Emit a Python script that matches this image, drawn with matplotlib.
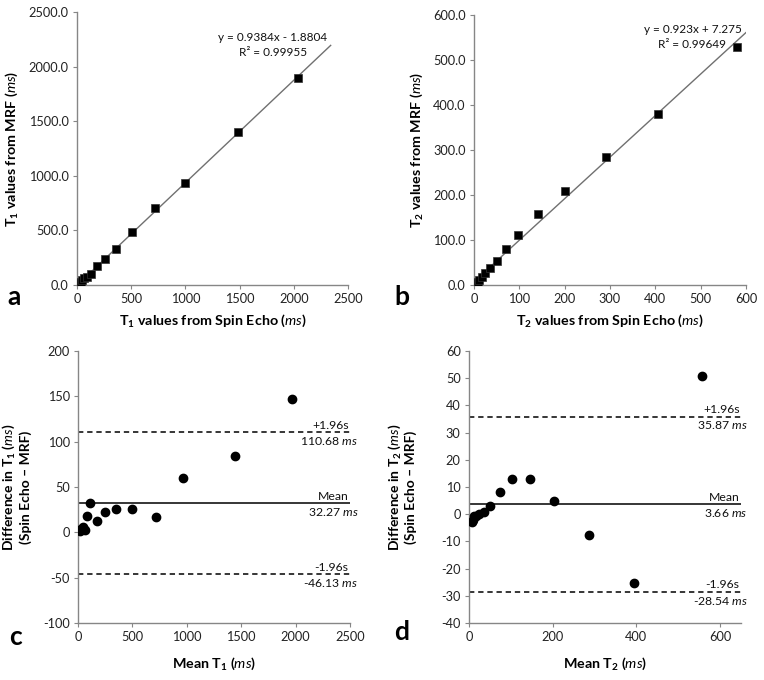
#! /usr/bin/env python3

import matplotlib
matplotlib.use('Agg')
import matplotlib.pyplot as plt
from matplotlib.ticker import FormatStrFormatter

plt.rcParams['font.family'] = ['Lato', 'DejaVu Sans']
plt.rcParams['mathtext.fontset'] = 'custom'
plt.rcParams['mathtext.rm'] = 'Lato'
plt.rcParams['mathtext.it'] = 'Lato:italic'
plt.rcParams['mathtext.bf'] = 'Lato:bold'
plt.rcParams['axes.unicode_minus'] = False

# panel a: T1 spin echo vs MRF
t1_spin_echo = [16, 33, 49, 65, 95, 129, 184, 256, 360, 507, 723, 993, 1484, 2038]
t1_mrf = [14, 29, 43, 62, 77, 97, 172, 234, 334, 481, 706, 933, 1400, 1893]
t1_slope, t1_intercept = 0.9384, -1.8804
t1_fit_range = [0, 2340]

# panel b: T2 spin echo vs MRF
t2_spin_echo = [6, 8, 11, 17, 24, 35, 50, 70, 96, 141, 200, 291, 405, 581]
t2_mrf = [4, 6, 11, 18.5, 26, 38.6, 54, 79, 110.5, 157, 208, 284, 380, 530]
t2_slope, t2_intercept = 0.923, 7.275
t2_fit_range = [0, 600]

# panel c: Bland-Altman T1
t1_mean = [15, 31, 46, 64, 86, 113, 178, 245, 347, 494, 715, 963, 1442, 1969]
t1_diff = [1.5, 4, 6, 3, 18, 32, 12, 22, 26, 26, 17, 60, 84, 147]
t1_ba = {'mean': 32.27, 'upper': 110.68, 'lower': -46.13}

# panel d: Bland-Altman T2
t2_mean = [7, 10, 13, 17, 25, 35, 50, 73, 102, 146, 204, 287, 394, 556]
t2_diff = [-2.7, -2.3, -0.8, -0.5, 0, 0.7, 3.2, 8.1, 13.1, 13.1, 4.9, -7.5, -25.2, 50.8]
t2_ba = {'mean': 3.66, 'upper': 35.87, 'lower': -28.54}

SPINE = '#868686'
TICK_FS = 9.2
LABEL_FS = 10.3
NOTE_FS = 8.8


def style_axes(ax):
    for side in ('top', 'right'):
        ax.spines[side].set_visible(False)
    for side in ('left', 'bottom'):
        ax.spines[side].set_color(SPINE)
        ax.spines[side].set_linewidth(1.0)
    ax.tick_params(axis='both', direction='out', length=3, width=0.8, color=SPINE,
                   labelsize=TICK_FS, labelcolor='#222222', pad=3)


def scatter_panel(ax, x, y, slope, intercept, fit_range, eq_text, eq_xy, lim, step):
    fit_y = [slope * v + intercept for v in fit_range]
    ax.plot(fit_range, fit_y, color='#707070', lw=1.0, zorder=2)
    ax.plot(x, y, ls='none', marker='s', ms=5.5, mfc='black', mec='#333333', mew=0.5, zorder=3)
    ax.set_xlim(0, lim)
    ax.set_ylim(0, lim)
    ax.set_xticks(range(0, lim + 1, step))
    ax.set_yticks(range(0, lim + 1, step))
    ax.yaxis.set_major_formatter(FormatStrFormatter('%.1f'))
    ax.text(eq_xy[0], eq_xy[1], eq_text, ha='center', va='center', fontsize=NOTE_FS - 0.3,
            linespacing=1.4, color='#111111')
    style_axes(ax)


def bland_altman_panel(ax, x, y, stats, xlim, ylim, xticks, ystep, text_dx):
    ax.plot(x, y, ls='none', marker='o', ms=6, color='black', zorder=3)
    ax.axhline(stats['mean'], color='black', lw=1.1, zorder=2)
    ax.axhline(stats['upper'], color='black', lw=1.1, ls=(0, (3.5, 2.5)), zorder=2)
    ax.axhline(stats['lower'], color='black', lw=1.1, ls=(0, (3.5, 2.5)), zorder=2)
    ax.set_xlim(*xlim)
    ax.set_ylim(*ylim)
    ax.set_xticks(xticks)
    ax.set_yticks(range(ylim[0], ylim[1] + 1, ystep))
    xr = xlim[1]
    kw = dict(ha='right', fontsize=NOTE_FS, color='#111111', textcoords='offset points')
    for key, name in (('upper', '+1.96s'), ('mean', 'Mean'), ('lower', '-1.96s')):
        ax.annotate(name, (xr, stats[key]), xytext=(-1, 1), va='bottom', **kw)
        ax.annotate('%.2f $\\mathit{ms}$' % stats[key], (xr, stats[key]), xytext=(text_dx, -2),
                    va='top', **kw)
    style_axes(ax)


fig = plt.figure(figsize=(7.64, 6.8), dpi=100)
ax_a = fig.add_axes([0.1008, 0.5809, 0.3547, 0.4015])
ax_b = fig.add_axes([0.6204, 0.5809, 0.3560, 0.3970])
ax_c = fig.add_axes([0.1021, 0.0838, 0.3560, 0.4000])
ax_d = fig.add_axes([0.6139, 0.0838, 0.3560, 0.4000])

scatter_panel(ax_a, t1_spin_echo, t1_mrf, t1_slope, t1_intercept, t1_fit_range,
              'y = 0.9384x - 1.8804\nR² = 0.99955', (1808, 2195), 2500, 500)
ax_a.set_xlabel('T$_\\mathbf{1}$ values from Spin Echo ($\\mathit{ms}$)', fontsize=LABEL_FS,
                fontweight='bold', labelpad=5)
ax_a.set_ylabel('T$_\\mathbf{1}$ values from MRF ($\\mathit{ms}$)', fontsize=LABEL_FS,
                fontweight='bold')
ax_a.yaxis.set_label_coords(-0.21, 0.5)

scatter_panel(ax_b, t2_spin_echo, t2_mrf, t2_slope, t2_intercept, t2_fit_range,
              'y = 0.923x + 7.275\nR² = 0.99649', (482, 551), 600, 100)
ax_b.xaxis.set_major_formatter(FormatStrFormatter('%d'))
ax_b.set_xlabel('T$_\\mathbf{2}$ values from Spin Echo ($\\mathit{ms}$)', fontsize=LABEL_FS,
                fontweight='bold', labelpad=5)
ax_b.set_ylabel('T$_\\mathbf{2}$ values from MRF ($\\mathit{ms}$)', fontsize=LABEL_FS,
                fontweight='bold')
ax_b.yaxis.set_label_coords(-0.18, 0.5)

bland_altman_panel(ax_c, t1_mean, t1_diff, t1_ba, (0, 2500), (-100, 200),
                   [0, 500, 1000, 1500, 2000, 2500], 50, 6)
ax_c.set_xlabel('Mean T$_\\mathbf{1}$ ($\\mathit{ms}$)', fontsize=LABEL_FS, fontweight='bold',
                labelpad=9)
ax_c.set_ylabel('Difference in T$_\\mathbf{1}$ ($\\mathit{ms}$)\n(Spin Echo \u2013 MRF)',
                fontsize=LABEL_FS - 0.3, fontweight='bold', linespacing=1.2)
ax_c.yaxis.set_label_coords(-0.17, 0.5)

bland_altman_panel(ax_d, t2_mean, t2_diff, t2_ba, (0, 650), (-40, 60),
                   [0, 200, 400, 600], 10, 5)
ax_d.set_xlabel('Mean T$_\\mathbf{2}$ ($\\mathit{ms}$)', fontsize=LABEL_FS, fontweight='bold',
                labelpad=9)
ax_d.set_ylabel('Difference in T$_\\mathbf{2}$ ($\\mathit{ms}$)\n(Spin Echo \u2013 MRF)',
                fontsize=LABEL_FS - 0.3, fontweight='bold', linespacing=1.2)
ax_d.yaxis.set_label_coords(-0.19, 0.5)

# panel letters
for letter, (px, py) in zip('abcd', [(7, 305), (394, 305), (9, 645), (394, 640)]):
    fig.text(px / 764, 1 - py / 680, letter, fontsize=19, fontweight='bold',
             ha='left', va='baseline')

fig.savefig('out.png', dpi=100)
